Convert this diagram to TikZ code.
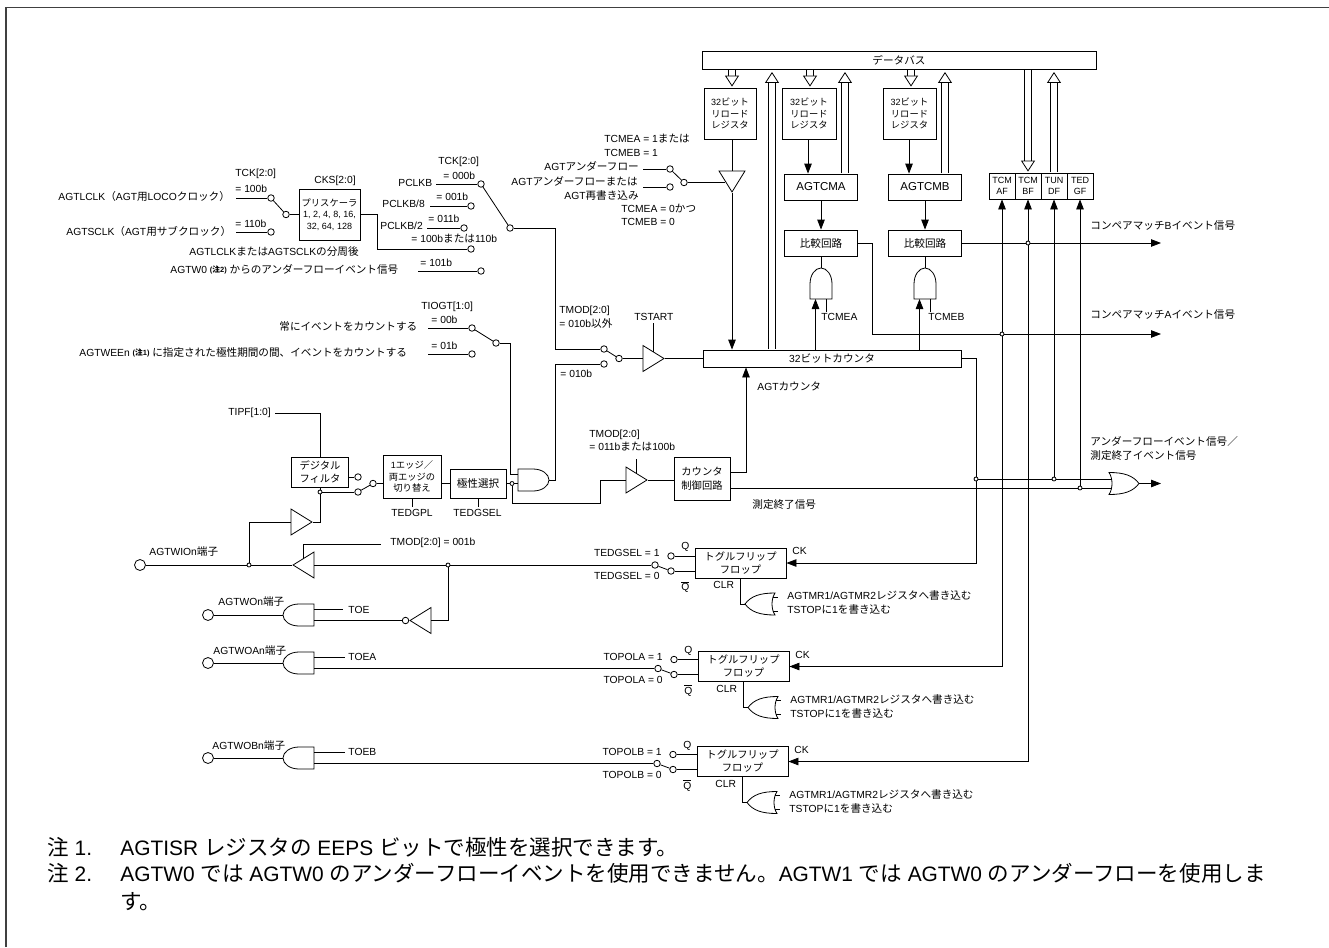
\documentclass[tikz,border=0pt]{standalone}
\usepackage{fontspec}
\setmainfont{Liberation Sans}
\newfontfamily\cjk[Scale=1.03]{Noto Sans CJK JP}
\usetikzlibrary{positioning,arrows.meta,shapes.geometric}
% Japanese characters switch to the CJK family by themselves
\newXeTeXintercharclass\cjkclass
\newcount\cjkcnt
\newcommand{\cjkrange}[2]{\cjkcnt=#1 \loop\XeTeXcharclass\cjkcnt=\cjkclass\relax\ifnum\cjkcnt<#2 \advance\cjkcnt by 1 \repeat}
\cjkrange{"3000}{"30FF}
\cjkrange{"4E00}{"9FFF}
\cjkrange{"FF00}{"FFEF}
\XeTeXinterchartokenstate=1
\XeTeXinterchartoks 0 \cjkclass={\cjk}
\XeTeXinterchartoks 4095 \cjkclass={\cjk}
\XeTeXinterchartoks \cjkclass 0={\rmfamily}
\XeTeXinterchartoks \cjkclass 4095={\rmfamily}
\newcommand{\noteref}[1]{\raisebox{1.5pt}{\fontsize{7.5}{7.5}\selectfont\bfseries (注#1)}}

\begin{document}
\begin{tikzpicture}[x=1pt,y=-1pt,line width=0.8pt,>={Triangle[length=10pt,width=7.5pt]},
  every node/.style={font=\fontsize{10.3}{12}\selectfont,inner sep=0pt},
  lbl/.style={anchor=west,text height=7.5pt,text depth=2.5pt},
  term/.style={circle,draw,fill=white,minimum size=6.5pt},
  dotj/.style={circle,draw,fill=white,minimum size=4pt},
  padnode/.style={circle,draw,fill=white,minimum size=11pt},
  box/.style={rectangle,draw,fill=white,align=center},
  smallbox/.style={box,font=\fontsize{9}{11.5}\selectfont},
  buf/.style={isosceles triangle,isosceles triangle stretches,draw,fill=white,minimum width=26pt,minimum height=21pt},
  hollow/.style={double,double distance=6.5pt,shorten >=1pt,-{Triangle[open,length=11pt,width=14pt,fill=white]}},
  andgp/.pic={
    \draw[fill=white] (-16,-11) -- (-31,-11) -- (-31,11) -- (-16,11) .. controls (-7,11) and (0,6) .. (0,0) .. controls (0,-6) and (-7,-11) .. (-16,-11) -- cycle;
    \coordinate (-in1) at (-31,-5.5);
    \coordinate (-in2) at (-31,5.5);
    \coordinate (-out) at (0,0);},
  orgp/.pic={
    \draw[fill=white] (-30,-11) .. controls (-15,-11) and (-6,-8) .. (0,0) .. controls (-6,8) and (-15,11) .. (-30,11) .. controls (-26,5) and (-26,-5) .. (-30,-11) -- cycle;
    \coordinate (-in1) at (-27.5,-7);
    \coordinate (-in2) at (-27.5,7);
    \coordinate (-out) at (0,0);}]
  \useasboundingbox (0,0) rectangle (1329,947);
  \draw[line width=1.5pt,black!75] (6,947)--(6,7.5)--(1329,7.5);

  % blocks
  \node[box,minimum width=394pt,minimum height=18pt] (bus) at (899,60) {データバス};
  \node[smallbox,minimum width=52pt,minimum height=51pt] (rlda) at (730,113.5) {32ビット\\リロード\\レジスタ};
  \node[smallbox,minimum width=54pt,minimum height=51pt] (rldb) at (809,113.5) {32ビット\\リロード\\レジスタ};
  \node[smallbox,minimum width=53pt,minimum height=51pt] (rldc) at (909.5,113.5) {32ビット\\リロード\\レジスタ};
  \node[box,minimum width=73pt,minimum height=26pt,font=\fontsize{11.5}{14}\selectfont] (cma) at (821,187) {AGTCMA};
  \node[box,minimum width=73pt,minimum height=26pt,font=\fontsize{11.5}{14}\selectfont] (cmb) at (925,187) {AGTCMB};
  \node[box,minimum width=73pt,minimum height=26pt] (cpa) at (821,243) {比較回路};
  \node[box,minimum width=73pt,minimum height=26pt] (cpb) at (925,243) {比較回路};
  \node[box,minimum width=258pt,minimum height=17pt] (cnt) at (832,358.5) {32ビットカウンタ};
  \node[smallbox,minimum width=61pt,minimum height=51pt] (pre) at (329.5,214.5) {プリスケーラ\\1, 2, 4, 8, 16,\\32, 64, 128};
  \node[box,minimum width=57pt,minimum height=30pt,font=\fontsize{10}{13}\selectfont] (filt) at (320,472) {デジタル\\フィルタ};
  \node[smallbox,minimum width=58pt,minimum height=43pt] (edg) at (412,476.5) {1エッジ／\\両エッジの\\切り替え};
  \node[box,minimum width=56pt,minimum height=29pt] (pol) at (478,483.5) {極性選択};
  \node[box,minimum width=56pt,minimum height=43pt,font=\fontsize{10}{14.5}\selectfont] (ctl) at (702,478.5) {カウンタ\\制御回路};
  \foreach \n/\x/\t in {fa/1002/{TCM\\AF},fb/1028/{TCM\\BF},fc/1054/{TUN\\DF},fd/1080/{TED\\GF}}
    \node[box,minimum width=26pt,minimum height=26pt,font=\fontsize{9}{11}\selectfont] (\n) at (\x,186) {\t};

  % switch terminals and junctions
  \foreach \n/\x/\y in {tlclk/271/198,tsclk/271/232,tpre/286/214.5,tp/481/184,tp8/471/206,tp2/464/228,
      tdiv/471/249,tw0/481/271,tsel/510/228,ta/472/328,tb/472/354,tg/496/343,tu1/670/169,tu2/670/187,
      tu3/684/182.5,tsa/604/349,tsb/604/364,tso/619/358.5,tf1/358/477,tf2/358/492,tf3/373/483.5}
    \node[term] (\n) at (\x,\y) {};
  \foreach \n/\x/\y in {jb/1028/243,ja/1002/334,jc/976/479,jd/1054/479,je/1080/488,dp/512/483.5,df/320/492,da/249/565,db/448/565}
    \node[dotj] (\n) at (\x,\y) {};
  \foreach \n/\l in {tlclk/35,tsclk/35,tp/45,tp8/41,tp2/37,tw0/63,ta/44,tb/44,tu1/27,tu2/27}
    \draw (\n) -- ++(-\l,0);
  \foreach \a/\b in {tlclk/tpre,tp/tsel,ta/tg,tu1/tu3,tsa/tso,tf2/tf3}
    \draw (\a) -- (\b);

  % labels
  \foreach \n/\x/\y/\t in {ltcka/235/174/{TCK[2:0]},lca/235/190/{= 100b},lcb/235/225/{= 110b},
      llclk/58/198/{AGTLCLK（AGT用LOCOクロック）},lsclk/66/233/{AGTSCLK（AGT用サブクロック）},
      lcks/314/181/{CKS[2:0]},ldiv/189/253/{AGTLCLKまたはAGTSCLKの分周後},lcc/411/240/{= 100bまたは110b},
      lp/398/184/{PCLKB},lpe/382/205/{PCLKB/8},lpt/380/227/{PCLKB/2},ltckb/438/162/{TCK[2:0]},
      lcd/443/177/{= 000b},lce/436/198/{= 001b},lcf/428/220/{= 011b},lcg/420/264/{= 101b},
      lw/170/271/{AGTW0 \noteref{2} からのアンダーフローイベント信号},
      ltio/421/307/{TIOGT[1:0]},lalw/279/328/{常にイベントをカウントする},lch/431/321/{= 00b},lci/431/347/{= 01b},
      lwee/79/354/{AGTWEEn \noteref{1} に指定された極性期間の間、イベントをカウントする},
      lma/604/140/{TCMEA = 1または},lmb/604/154/{TCMEB = 1},lua/544/168/{AGTアンダーフロー},
      lub/511/183/{AGTアンダーフローまたは},luc/564/197/{AGT再書き込み},lmc/621/210/{TCMEA = 0かつ},lmd/621/223/{TCMEB = 0},
      ltm/559/311/{TMOD[2:0]},ltn/559/325/{= 010b以外},lts/634/318/{TSTART},lte/560/375/{= 010b},
      lcn/757/388/{AGTカウンタ},lea/821/318/{TCMEA},leb/928/318/{TCMEB},
      lcmb/1090/227/{コンペアマッチBイベント信号},lcma/1090/316/{コンペアマッチAイベント信号},
      luf/1090/443/{アンダーフローイベント信号／},lue/1090/457/{測定終了イベント信号},lmes/752/506/{測定終了信号},
      ltip/228/413/{TIPF[1:0]},lgpl/391/514/{TEDGPL},lgse/453/514/{TEDGSEL},ltma/390/543/{TMOD[2:0] = 001b},
      lwio/149/553/{AGTWIOn端子},lwon/218/603/{AGTWOn端子},ltoe/348/611/{TOE},
      lwoa/213/652/{AGTWOAn端子},ltoa/348/658/{TOEA},lwob/212/747/{AGTWOBn端子},ltob/348/753/{TOEB},
      ltmc/589/435/{TMOD[2:0]},ltmd/589/448/{= 011bまたは100b}}
    \node[lbl] (\n) at (\x,\y) {\t};

  % data bus
  \foreach \x/\n in {732/rlda,810/rldb,911/rldc,1028/fb}
    \draw[hollow] ([yshift=-0.6pt]\x,0 |- bus.south) -- (\x,0 |- \n.north);
  \foreach \x/\n in {772/cnt,845/cma,945/cmb,1054/fc}
    \draw[hollow] ([yshift=0.6pt]\x,0 |- \n.north) -- (\x,71);

  % reload path
  \node[buf,rotate=-90,anchor=apex] (bdn) at (732,193) {};
  \draw (rlda.south -| bdn.apex) -- (bdn.lower side);
  \draw[->] (bdn.apex) -- (cnt.north -| bdn.apex);
  \draw (tu3) -- (tu3 -| bdn.right side);
  \draw[->] (808,0 |- rldb.south) -- (808,0 |- cma.north);
  \draw[->] (909,0 |- rldc.south) -- (909,0 |- cmb.north);
  \draw[->] (cma) -- (cpa);
  \draw[->] (cmb) -- (cpb);

  % compare gates
  \pic[rotate=90] (ga) at (821,268) {andgp};
  \pic[rotate=90] (gb) at (925,268) {andgp};
  \draw (cpa.south) -- (ga-out);
  \draw (cpb.south) -- (gb-out);
  \draw[->] (cnt.north -| ga-in1) -- (ga-in1);
  \draw[->] (cnt.north -| gb-in1) -- (gb-in1);
  \draw (ga-in2) -- ++(0,13);
  \draw (gb-in2) -- ++(0,13);

  % event outputs
  \coordinate (ea) at (1161,334);
  \coordinate (eb) at (1161,243);
  \draw (cpa.east) -| (872,0 |- ja) -- (ja);
  \draw[->] (ja) -- (ea);
  \draw (cpb.east) -- (jb);
  \draw[->] (jb) -- (eb);
  \draw[->] (ja) -- (fa);
  \draw[->] (jb) -- (fb);
  \draw[->] (jd) -- (fc);
  \draw[->] (je) -- (fd);
  \pic (gu) at (1139,483.5) {orgp};
  \draw[->] (gu-out) -- ++(22,0);
  \draw (cnt.east) -| (jc);
  \draw (jc) -- (jd) -- (jd -| gu-in1);
  \draw (ctl.east |- je) -- (je) -- (je -| gu-in2);

  % count source
  \draw (pre.east) -| (377,0 |- tdiv) -- (tdiv);
  \draw (tpre) -- (pre.west);
  \draw (tsel) -| (555,0 |- tsa) -- (tsa);
  \node[buf,anchor=apex] (bst) at (665,358.5) {};
  \draw (tso) -- (bst.lower side);
  \draw (bst.apex) -- (cnt.west);
  \draw (bst.left side |- lts.south) -- (bst.left side);

  % input path
  \node[padnode] (pio) at (140,565) {};
  \node[buf,rotate=180,anchor=apex] (bl) at (292,565) {};
  \node[buf,anchor=apex] (bu) at (313,522) {};
  \draw (pio) -- (da) -- (bl.apex);
  \draw (bl.lower side) -- (db);
  \draw (da) |- (bu.lower side);
  \draw (bu.apex) -| (df);
  \draw (df) -- (filt.south -| df);
  \draw (df) -- (tf2);
  \draw (filt.east |- tf1) -- (tf1);
  \draw (tf3) -- (edg.west |- tf3);
  \draw (edg.east |- pol.west) -- (pol.west);
  \draw (pol.east) -- (dp);
  \draw (bl.right side) |- ++(78,-14);
  \draw ([xshift=4pt]ltip.east) -| (filt.north);
  \draw (edg.south) -- ++(0,9);
  \draw (pol.south) -- ++(0,9);
  \pic (gm) at (549,480) {andgp};
  \draw (dp) -- (dp -| gm-in2);
  \draw (tg) -| (510,0 |- gm-in1) -- (gm-in1);
  \draw (gm-out) -- ++(6,0) |- (tsb);
  \node[buf,anchor=apex] (bc) at (648,480) {};
  \draw (dp) |- (600,503) |- (bc.lower side);
  \draw (bc.apex) -- (ctl.west |- bc.apex);
  \draw (bc.left side) -- ++(0,-14);
  \draw[->] (ctl.east |- 0,472) -| (cnt.south -| 746,0);

  % toggle flip-flops
  \foreach \n/\dx/\dy/\sg in {a/0/0/TEDGSEL,b/3/103.5/TOPOLA,c/2/198.5/TOPOLB} {
    \node[box,minimum width=91pt,minimum height=30pt,font=\fontsize{10}{13}\selectfont] (tff\n) at (740.5+\dx,563+\dy) {トグルフリップ\\フロップ};
    \node[term] (ti\n) at (655+\dx,565+\dy) {};
    \node[term] (tq\n) at (671+\dx,556+\dy) {};
    \node[term] (tn\n) at (671+\dx,571+\dy) {};
    \draw (ti\n) -- (tn\n);
    \draw (tq\n) -- (tq\n -| tff\n.west);
    \draw (tn\n) -- (tn\n -| tff\n.west);
    \node[lbl,anchor=east] (ls\n) at (660+\dx,554+\dy) {\sg{} = 1};
    \node[lbl,anchor=east] (lr\n) at (660+\dx,577+\dy) {\sg{} = 0};
    \node[lbl] (lq\n) at (681+\dx,547+\dy) {Q};
    \node[lbl] (lb\n) at (681+\dx,588+\dy) {$\overline{\mbox{Q}}$};
    \node[lbl] (lk\n) at (792+\dx,552+\dy) {CK};
    \node[lbl] (lc\n) at (713+\dx,586+\dy) {CLR};
    \pic[rotate=180] (oc\n) at (745+\dx,604+\dy) {orgp};
    \draw (tff\n.south) |- (oc\n-out);
    \draw (oc\n-in1) -- ++(5,0);
    \draw (oc\n-in2) -- ++(5,0);
    \node[lbl] (lw\n) at (787+\dx,597+\dy) {AGTMR1/AGTMR2レジスタへ書き込む};
    \node[lbl] (ly\n) at (787+\dx,611+\dy) {TSTOPに1を書き込む};
  }
  \draw (db) -- (tia);
  \draw[->] (jc) |- (tffa.east);
  \draw[->] (ja) |- (tffb.east);
  \draw[->] (jb) |- (tffc.east);

  % output gates
  \pic[rotate=180] (gt) at (283,615) {andgp};
  \node[padnode] (pon) at (208,615) {};
  \draw (pon) -- (gt-out);
  \draw (gt-in2) -- ++(29,0);
  \node[term] (tinv) at (405.5,0 |- gt-in1) {};
  \node[buf,rotate=180,anchor=apex] (binv) at (409,0 |- gt-in1) {};
  \draw (gt-in1) -- (tinv);
  \draw (binv.lower side) -| (db);
  \pic[rotate=180] (gx) at (283,663) {andgp};
  \node[padnode] (poa) at (208,0 |- gx-out) {};
  \draw (poa) -- (gx-out);
  \draw (gx-in2) -- ++(31,0);
  \draw (gx-in1) -- (tib);
  \pic[rotate=180] (gy) at (283,758) {andgp};
  \node[padnode] (pob) at (208,0 |- gy-out) {};
  \draw (pob) -- (gy-out);
  \draw (gy-in2) -- ++(31,0);
  \draw (gy-in1) -- (tic);

  % notes
  \foreach \n/\x/\y/\t in {na/47/850/{注 1.},nb/120/850/{AGTISR レジスタの EEPS ビットで極性を選択できます。},
      nc/47/876/{注 2.},nd/120/876/{AGTW0 では AGTW0 のアンダーフローイベントを使用できません。AGTW1 では AGTW0 のアンダーフローを使用しま},ne/120/904/{す。}}
    \node[lbl,text height=15pt,text depth=5pt,font=\fontsize{20.9}{24}\selectfont] (\n) at (\x,\y) {\t};
\end{tikzpicture}
\end{document}
